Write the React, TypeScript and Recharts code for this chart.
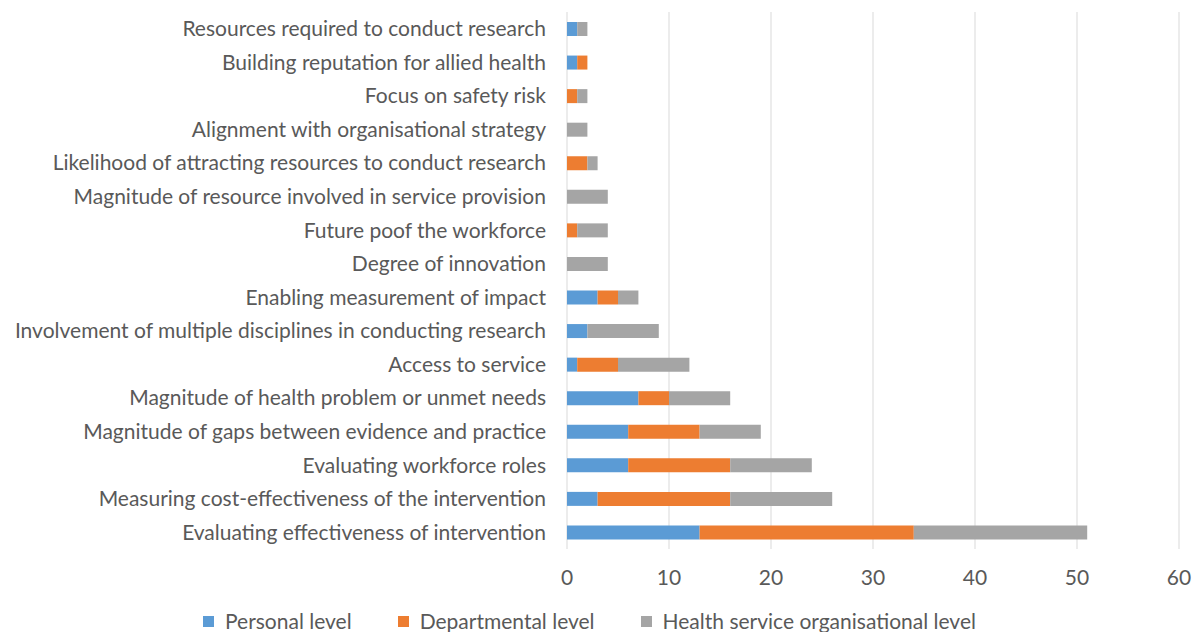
import React from "react";
import {
  Bar,
  BarChart,
  CartesianGrid,
  Legend,
  XAxis,
  YAxis,
} from "recharts";

// criteria listed top to bottom
const criteria = [
  "Resources required to conduct research",
  "Building reputation for allied health",
  "Focus on safety risk",
  "Alignment with organisational strategy",
  "Likelihood of attracting resources to conduct research",
  "Magnitude of resource involved in service provision",
  "Future poof the workforce",
  "Degree of innovation",
  "Enabling measurement of impact",
  "Involvement of multiple disciplines in conducting research",
  "Access to service",
  "Magnitude of health problem or unmet needs",
  "Magnitude of gaps between evidence and practice",
  "Evaluating workforce roles",
  "Measuring cost-effectiveness of the intervention",
  "Evaluating effectiveness of intervention ",
];

const personal = [1, 1, 0, 0, 0, 0, 0, 0, 3, 2, 1, 7, 6, 6, 3, 13];
const departmental = [0, 1, 1, 0, 2, 0, 1, 0, 2, 0, 4, 3, 7, 10, 13, 21];
const organisational = [1, 0, 1, 2, 1, 4, 3, 4, 2, 7, 7, 6, 6, 8, 10, 17];

const xTicks = [0, 10, 20, 30, 40, 50, 60];

const series = [
  { key: "personal", name: "Personal level", color: "#5b9bd5" },
  { key: "departmental", name: "Departmental level", color: "#ed7d31" },
  { key: "organisational", name: "Health service organisational level", color: "#a5a5a5" },
];

const data = criteria.map((name, i) => ({
  name,
  personal: personal[i],
  departmental: departmental[i],
  organisational: organisational[i],
}));

const FONT = "Lato, 'Open Sans', sans-serif";
const TEXT = "#595959";
const FS = 21;

const LegendRow = () => (
  <div
    style={{
      display: "flex",
      justifyContent: "center",
      gap: 46,
      paddingTop: 12,
      fontFamily: FONT,
      fontSize: FS,
      color: TEXT,
      lineHeight: "20px",
    }}
  >
    {series.map((s) => (
      <span key={s.key} style={{ display: "flex", alignItems: "center" }}>
        <span style={{ width: 11, height: 11, background: s.color, marginRight: 11, display: "inline-block" }} />
        {s.name}
      </span>
    ))}
  </div>
);

export default function App() {
  return (
    <div style={{ position: "absolute", left: 0, top: 0, width: 1192, height: 632, background: "#fff" }}>
      <BarChart
        width={1192}
        height={632}
        data={data}
        layout="vertical"
        margin={{ top: 12, right: 13, bottom: 0, left: 0 }}
        style={{ fontFamily: FONT }}
      >
        <CartesianGrid horizontal={false} stroke="#d9d9d9" />
        <XAxis
          type="number"
          domain={[0, 60]}
          ticks={xTicks}
          axisLine={false}
          tickLine={false}
          tickMargin={15}
          height={50}
          tick={{ fill: TEXT, fontSize: FS }}
        />
        <YAxis
          type="category"
          dataKey="name"
          width={567}
          axisLine={false}
          tickLine={false}
          tickMargin={15}
          interval={0}
          tick={{ fill: TEXT, fontSize: FS }}
        />
        <Legend verticalAlign="bottom" height={33} content={() => <LegendRow />} />
        {series.map((s) => (
          <Bar
            key={s.key}
            dataKey={s.key}
            name={s.name}
            stackId="a"
            fill={s.color}
            barSize={14}
            isAnimationActive={false}
          />
        ))}
      </BarChart>
    </div>
  );
}
